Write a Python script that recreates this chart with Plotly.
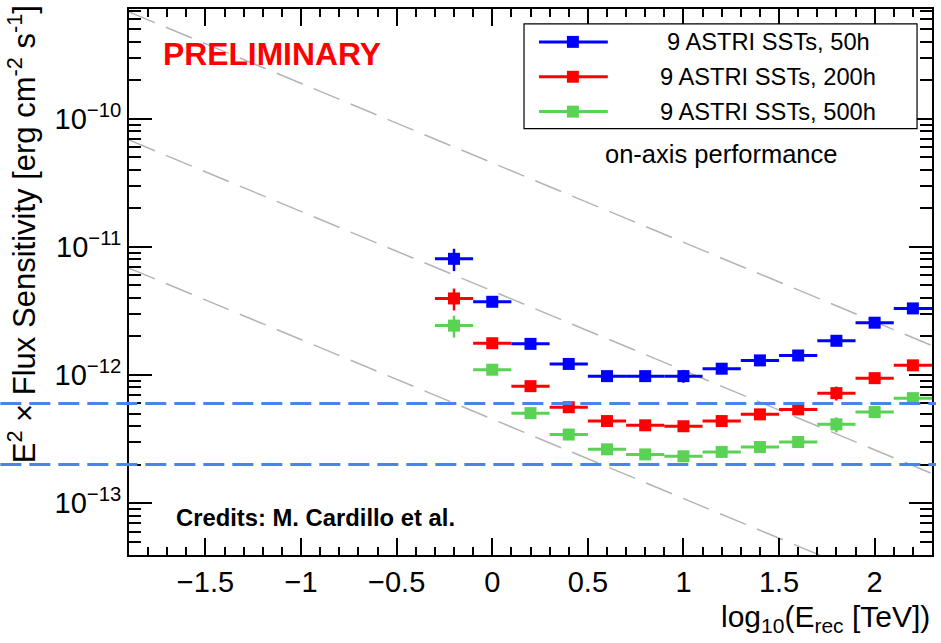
import numpy as np
import plotly.graph_objects as go

# ---------------- data ----------------
x_centers = [-0.2, 0.0, 0.2, 0.4, 0.6, 0.8, 1.0, 1.2, 1.4, 1.6, 1.8, 2.0, 2.2]
x_halfwidth = [0.1] * 13

sens_50h = [8.07e-12, 3.73e-12, 1.75e-12, 1.22e-12, 0.98e-12, 0.98e-12, 0.98e-12,
            1.12e-12, 1.30e-12, 1.42e-12, 1.85e-12, 2.56e-12, 3.31e-12]
err_50h = [1.6e-12, 0.25e-12, 0.10e-12, 0.08e-12, 0.06e-12, 0.06e-12, 0.11e-12,
           0.07e-12, 0.08e-12, 0.09e-12, 0.15e-12, 0.20e-12, 0.25e-12]

sens_200h = [3.96e-12, 1.77e-12, 0.818e-12, 5.6e-13, 4.37e-13, 4.05e-13, 3.98e-13,
             4.37e-13, 4.93e-13, 5.39e-13, 7.22e-13, 9.45e-13, 1.19e-12]
err_200h = [0.77e-12, 0.12e-12, 0.05e-12, 0.04e-12, 0.03e-12, 0.03e-12, 0.03e-12,
            0.03e-12, 0.04e-12, 0.04e-12, 0.09e-12, 0.07e-12, 0.08e-12]

sens_500h = [2.43e-12, 1.10e-12, 5.04e-13, 3.43e-13, 2.63e-13, 2.40e-13, 2.32e-13,
             2.51e-13, 2.74e-13, 3.00e-13, 4.12e-13, 5.14e-13, 6.6e-13]
err_500h = [0.47e-12, 0.07e-12, 0.03e-12, 0.02e-12, 0.02e-12, 0.02e-12, 0.02e-12,
            0.02e-12, 0.02e-12, 0.02e-12, 0.055e-12, 0.04e-12, 0.05e-12]

series_names = ["9 ASTRI SSTs, 50h", "9 ASTRI SSTs, 200h", "9 ASTRI SSTs, 500h"]

# Crab reference (E^2 dN/dE in erg cm^-2 s^-1 at 1 TeV, photon index)
crab_norm_erg = 4.53e-11
crab_index = 2.62
crab_fractions = [1.0, 0.1, 0.01]

# horizontal reference sensitivity levels
ref_levels = [6e-13, 2e-13]

x_tick_vals = [-1.5, -1.0, -0.5, 0.0, 0.5, 1.0, 1.5, 2.0]
x_tick_text = ["\u22121.5", "\u22121", "\u22120.5", "0", "0.5", "1", "1.5", "2"]
y_tick_vals = [1e-13, 1e-12, 1e-11, 1e-10]
y_tick_text = ["10<sup>\u221213</sup>", "10<sup>\u221212</sup>",
               "10<sup>\u221211</sup>", "10<sup>\u221210</sup>"]

# ---------------- layout geometry ----------------
W, H = 941, 643
L, R, T, B = 129, 7, 7, 88
PW, PH = W - L - R, H - T - B
X_RANGE = [-1.9, 2.3]
Y_RANGE = [-13.405, -9.143]

def px(xp):
    return (xp - L) / PW

def py(yp):
    return (H - B - yp) / PH

def py_val(v):
    return (np.log10(v) - Y_RANGE[0]) / (Y_RANGE[1] - Y_RANGE[0])

FONT = "Liberation Sans, Arial, Helvetica, sans-serif"
colors = ["#0000ff", "#ff0000", "#5ad254"]

fig = go.Figure()

# Crab lines
x_line = np.array(X_RANGE)
for f in crab_fractions:
    y_line = f * crab_norm_erg * 10 ** (-(crab_index - 2.0) * x_line)
    fig.add_trace(go.Scatter(x=x_line, y=y_line, mode="lines",
                             line=dict(color="#b4b4b4", width=1.5, dash="28px,12px"),
                             showlegend=False, hoverinfo="skip"))

for ys, es, c, name in zip([sens_50h, sens_200h, sens_500h],
                           [err_50h, err_200h, err_500h], colors, series_names):
    fig.add_trace(go.Scatter(
        x=x_centers, y=ys, mode="markers", name=name,
        marker=dict(symbol="square", size=12, color=c, line=dict(width=0)),
        error_x=dict(type="data", array=x_halfwidth, width=0, thickness=3, color=c),
        error_y=dict(type="data", array=es, width=0, thickness=2.5, color=c),
        showlegend=False))

shapes = []
for lv in ref_levels:
    yp = float(py_val(lv))
    shapes.append(dict(type="line", xref="paper", yref="paper",
                       x0=px(0), x1=px(938), y0=yp, y1=yp,
                       line=dict(color="#4a84ea", width=3, dash="21px,8px"),
                       layer="above"))

# legend box
shapes.append(dict(type="rect", xref="paper", yref="paper",
                   x0=px(525), x1=px(919), y0=py(127), y1=py(22),
                   line=dict(color="black", width=1.2), fillcolor="white", layer="above"))
annotations = []
rows_y = [40, 75, 110]
for ry, c, name in zip(rows_y, colors, series_names):
    shapes.append(dict(type="line", xref="paper", yref="paper",
                       x0=px(540), x1=px(609), y0=py(ry), y1=py(ry),
                       line=dict(color=c, width=3), layer="above"))
    shapes.append(dict(type="rect", xref="paper", yref="paper",
                       x0=px(568), x1=px(580), y0=py(ry + 6), y1=py(ry - 6),
                       line=dict(width=0), fillcolor=c, layer="above"))
    annotations.append(dict(text=name, xref="paper", yref="paper",
                            x=px(770), y=py(ry), xanchor="center", yanchor="middle",
                            showarrow=False, font=dict(family=FONT, size=23.7, color="black")))

annotations += [
    dict(text="on-axis performance", xref="paper", yref="paper",
         x=px(722), y=py(153), xanchor="center", yanchor="middle", showarrow=False,
         font=dict(family=FONT, size=25.5, color="black")),
    dict(text="<b>PRELIMINARY</b>", xref="paper", yref="paper",
         x=px(161), y=py(52), xanchor="left", yanchor="middle", showarrow=False,
         font=dict(family=FONT, size=31.8, color="#ff0000")),
    dict(text="<b>Credits: M. Cardillo et al.</b>", xref="paper", yref="paper",
         x=px(174), y=py(517), xanchor="left", yanchor="middle", showarrow=False,
         font=dict(family=FONT, size=23.8, color="black")),
    dict(text="E<sup>2</sup> \u00d7 Flux Sensitivity [erg cm<sup>-2</sup> s<sup>-1</sup>]",
         xref="paper", yref="paper", x=px(22), y=py(1), xanchor="center", yanchor="top",
         textangle=-90, showarrow=False, font=dict(family=FONT, size=31, color="black")),
    dict(text="log<sub>10</sub>(E<sub>rec</sub> [TeV])", xref="paper", yref="paper",
         x=px(934), y=py(619), xanchor="right", yanchor="middle", showarrow=False,
         font=dict(family=FONT, size=30, color="black")),
]

y_minor = [k * 10.0 ** n for n in range(-14, -8) for k in range(2, 10)]

fig.update_layout(
    width=W, height=H, margin=dict(l=L, r=R, t=T, b=B),
    paper_bgcolor="white", plot_bgcolor="white",
    showlegend=False, shapes=shapes, annotations=annotations,
    font=dict(family=FONT, color="black"),
    xaxis=dict(range=X_RANGE, tickvals=x_tick_vals, ticktext=x_tick_text,
               ticks="inside", ticklen=17, tickwidth=1.5, tickcolor="black",
               showline=True, linewidth=2, linecolor="black", mirror="allticks",
               showgrid=False, zeroline=False,
               tickfont=dict(family=FONT, size=29, color="black"),
               minor=dict(dtick=0.1, tick0=0, ticks="inside", ticklen=8,
                          tickwidth=1.5, tickcolor="black", showgrid=False)),
    yaxis=dict(type="log", range=Y_RANGE, tickvals=y_tick_vals, ticktext=y_tick_text,
               ticks="inside", ticklen=23, tickwidth=1.5, tickcolor="black",
               showline=True, linewidth=2, linecolor="black", mirror="allticks",
               showgrid=False, zeroline=False,
               tickfont=dict(family=FONT, size=29, color="black"),
               minor=dict(tickvals=y_minor, ticks="inside", ticklen=12,
                          tickwidth=1.5, tickcolor="black", showgrid=False)),
)

fig.write_html("out.html")
